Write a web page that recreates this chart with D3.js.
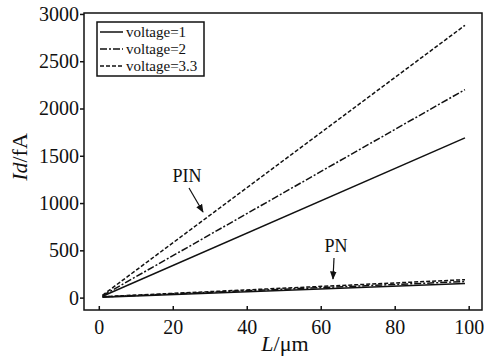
<!DOCTYPE html>
<html><head><meta charset="utf-8">
<script src="https://cdn.jsdelivr.net/npm/d3@7"></script>
<style>body{margin:0;background:#fff;} svg{display:block;}</style>
</head><body><svg id="c" width="484" height="358"></svg>
<script>
const L = [1, 99];
const pinV1 = [15, 1690];
const pinV2 = [20, 2200];
const pinV33 = [25, 2880];
const pnV1 = [5, 150];
const pnV2 = [8, 170];
const pnV33 = [10, 190];
const xTicks = [0, 20, 40, 60, 80, 100];
const yTicks = [0, 500, 1000, 1500, 2000, 2500, 3000];
const legendLabels = ["voltage=1", "voltage=2", "voltage=3.3"];
const dashes = [null, "7,2,2,2", "4,2"];
const FONT = "Liberation Serif, Times New Roman, Times, DejaVu Serif, serif";

const svg = d3.select("#c").attr("font-family", FONT);
const m = {l:84, t:13, r:482, b:310};
const x = d3.scaleLinear().domain([-4, 103.6]).range([m.l, m.r]);
const y = d3.scaleLinear().domain([-131, 3010]).range([m.b, m.t]);

const series = [
  {v: pinV1, s: 0}, {v: pinV2, s: 1}, {v: pinV33, s: 2},
  {v: pnV1, s: 0}, {v: pnV2, s: 1}, {v: pnV33, s: 2}
];
const line = d3.line().x((d,i)=>x(L[i])).y(d=>y(d));
series.forEach(sr=>{
  svg.append("path").datum(sr.v).attr("d", line).attr("fill","none")
    .attr("stroke","#111").attr("stroke-width",1.5)
    .attr("stroke-dasharray", dashes[sr.s]);
});

// frame
svg.append("rect").attr("x",m.l).attr("y",m.t).attr("width",m.r-m.l).attr("height",m.b-m.t)
  .attr("fill","none").attr("stroke","#111").attr("stroke-width",1.5);

// axes
const yAxis = svg.append("g").attr("transform",`translate(${m.l},0)`)
  .call(d3.axisLeft(y).tickValues(yTicks).tickSize(4).tickPadding(1).tickFormat(d3.format("d")));
const xAxis = svg.append("g").attr("transform",`translate(0,${m.b})`)
  .call(d3.axisBottom(x).tickValues(xTicks).tickSize(-4).tickPadding(10).tickFormat(d3.format("d")));
[yAxis, xAxis].forEach(a=>{
  a.attr("font-family", FONT).attr("font-size", 20);
  a.select(".domain").remove();
  a.selectAll("line").attr("stroke","#111").attr("stroke-width",1.5);
  a.selectAll("text").attr("fill","#111");
});

// axis titles
const yt = svg.append("text").attr("transform","translate(27,157) rotate(-90)")
  .attr("text-anchor","middle").attr("font-size",22).attr("fill","#111");
yt.append("tspan").attr("font-style","italic").text("Id");
yt.append("tspan").text("/fA");
const xt = svg.append("text").attr("x",285).attr("y",351).attr("text-anchor","middle")
  .attr("font-size",22).attr("fill","#111");
xt.append("tspan").attr("font-style","italic").text("L");
xt.append("tspan").text("/μm");

// legend
svg.append("rect").attr("x",97).attr("y",22).attr("width",107).attr("height",54)
  .attr("fill","#fff").attr("stroke","#111").attr("stroke-width",1.5);
legendLabels.forEach((t,i)=>{
  const yy = 32 + i*17;
  svg.append("line").attr("x1",100).attr("x2",123).attr("y1",yy).attr("y2",yy)
    .attr("stroke","#111").attr("stroke-width",1.5).attr("stroke-dasharray",dashes[i]);
  svg.append("text").attr("x",126).attr("y",yy+5).attr("font-size",15).attr("fill","#111").text(t);
});

// annotations
svg.append("defs").append("marker").attr("id","ah").attr("viewBox","0 0 10 10")
  .attr("refX",9).attr("refY",5).attr("markerWidth",7).attr("markerHeight",7).attr("orient","auto")
  .append("path").attr("d","M0,1 L10,5 L0,9 Z").attr("fill","#111");
svg.append("text").attr("x",187).attr("y",182).attr("text-anchor","middle").attr("font-size",18).attr("fill","#111").text("PIN");
svg.append("line").attr("x1",189).attr("y1",188).attr("x2",203).attr("y2",212)
  .attr("stroke","#111").attr("stroke-width",1.2).attr("marker-end","url(#ah)");
svg.append("text").attr("x",336).attr("y",252).attr("text-anchor","middle").attr("font-size",18).attr("fill","#111").text("PN");
svg.append("line").attr("x1",334).attr("y1",258).attr("x2",333).attr("y2",279)
  .attr("stroke","#111").attr("stroke-width",1.2).attr("marker-end","url(#ah)");
</script></body></html>
